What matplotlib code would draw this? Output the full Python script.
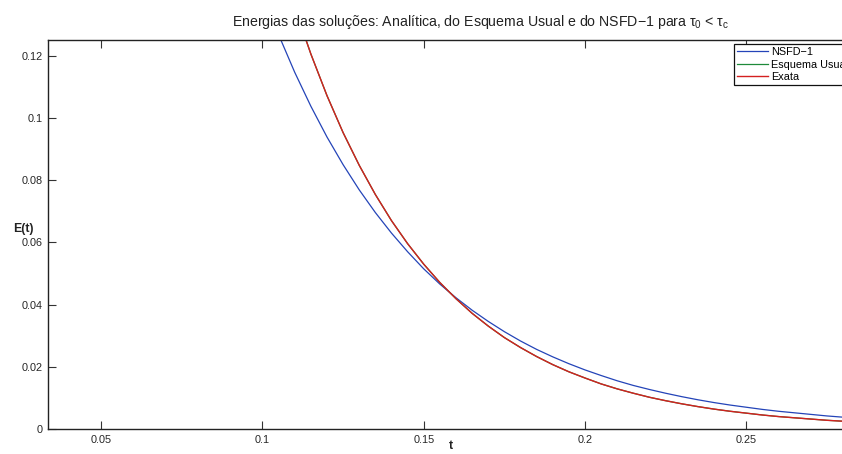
import matplotlib
matplotlib.use("Agg")
import matplotlib.pyplot as plt

plt.rcParams['font.family'] = ['Liberation Sans', 'DejaVu Sans']
plt.rcParams['mathtext.fontset'] = 'custom'
plt.rcParams['mathtext.rm'] = 'Liberation Sans'
plt.rcParams['mathtext.it'] = 'Liberation Sans'

# time samples
t = [0.095, 0.100, 0.105, 0.110, 0.115, 0.120, 0.125, 0.130, 0.135, 0.140,
     0.145, 0.150, 0.155, 0.160, 0.165, 0.170, 0.175, 0.180, 0.185, 0.190,
     0.195, 0.200, 0.205, 0.210, 0.215, 0.220, 0.225, 0.230, 0.235, 0.240,
     0.245, 0.250, 0.255, 0.260, 0.265, 0.270, 0.275, 0.280, 0.285]

# NSFD-1 energy
nsfd = [0.1549, 0.1401, 0.1268, 0.1147, 0.1038, 0.0939, 0.0850, 0.0769, 0.0696, 0.0630,
        0.0570, 0.0515, 0.0466, 0.0422, 0.0382, 0.0346, 0.0313, 0.0283, 0.0256, 0.0232,
        0.0210, 0.0190, 0.0172, 0.0155, 0.0140, 0.0127, 0.0115, 0.0104, 0.0094, 0.0085,
        0.0077, 0.0070, 0.0063, 0.0057, 0.0052, 0.0047, 0.0042, 0.0038, 0.0035]

# Exact energy
exata = [0.1930, 0.1715, 0.1525, 0.1356, 0.1206, 0.1072, 0.0953, 0.0848, 0.0754, 0.0670,
         0.0596, 0.0530, 0.0471, 0.0419, 0.0372, 0.0331, 0.0294, 0.0262, 0.0233, 0.0207,
         0.0184, 0.0164, 0.0145, 0.0129, 0.0115, 0.0102, 0.0091, 0.0081, 0.0072, 0.0064,
         0.0057, 0.0051, 0.0045, 0.0040, 0.0036, 0.0032, 0.0028, 0.0025, 0.0022]

# Usual scheme energy (overlaps the exact one)
usual = [0.1930, 0.1715, 0.1525, 0.1356, 0.1206, 0.1072, 0.0953, 0.0848, 0.0754, 0.0670,
         0.0596, 0.0530, 0.0471, 0.0419, 0.0372, 0.0331, 0.0294, 0.0262, 0.0233, 0.0207,
         0.0184, 0.0164, 0.0145, 0.0129, 0.0115, 0.0102, 0.0091, 0.0081, 0.0072, 0.0064,
         0.0057, 0.0051, 0.0045, 0.0040, 0.0036, 0.0032, 0.0028, 0.0025, 0.0022]

xticks = [0.05, 0.1, 0.15, 0.2, 0.25]
xticklabels = ['0.05', '0.1', '0.15', '0.2', '0.25']
yticks = [0, 0.02, 0.04, 0.06, 0.08, 0.1, 0.12]
yticklabels = ['0', '0.02', '0.04', '0.06', '0.08', '0.1', '0.12']

W, H = 842, 454
fig = plt.figure(figsize=(W / 100, H / 100), dpi=100)
ax_left, ax_right, ax_top, ax_bottom = 48, 914, 40, 429
ax = fig.add_axes([ax_left / W, 1 - ax_bottom / H, (ax_right - ax_left) / W, (ax_bottom - ax_top) / H])

l1, = ax.plot(t, nsfd, color='#2444b8', lw=0.9, label='NSFD\u22121')
l2, = ax.plot(t, usual, color='#1e8a3a', lw=0.9, label='Esquema Usual')
l3, = ax.plot(t, exata, color='#d42020', lw=1.0, label='Exata')

ax.set_xlim(0.0335, 0.302)
ax.set_ylim(0, 0.1251)
ax.set_xticks(xticks)
ax.set_xticklabels(xticklabels)
ax.set_yticks(yticks)
ax.set_yticklabels(yticklabels)
ax.tick_params(direction='in', length=5.5, width=0.8, color='#333333',
               labelsize=7.8, labelcolor='#262626', top=True, right=True, pad=4)
for s in ax.spines.values():
    s.set_linewidth(1.0)
    s.set_color('#222222')

ax.set_title('Energias das soluções: Analítica, do Esquema Usual e do NSFD\u22121 para $\\tau_0$ < $\\tau_c$',
             fontsize=10.2, color='#222222', pad=10)

fig.text(23 / W, 1 - 229 / H, 'E(t)', fontsize=8.8, fontweight='bold', ha='center', va='center', color='#222222')
fig.text(451 / W, 1 - 446 / H, 't', fontsize=8.8, fontweight='bold', ha='center', va='center', color='#222222')

leg = fig.legend(handles=[l1, l2, l3], loc='upper left', bbox_to_anchor=(734 / W, 1 - 44 / H),
                 fontsize=7.8, frameon=True, fancybox=False, framealpha=1, edgecolor='#111111',
                 handlelength=2.8, handletextpad=0.3, labelspacing=0.22, borderpad=0.3,
                 borderaxespad=0)
leg.get_frame().set_linewidth(0.9)

fig.savefig('out.png', dpi=100)
